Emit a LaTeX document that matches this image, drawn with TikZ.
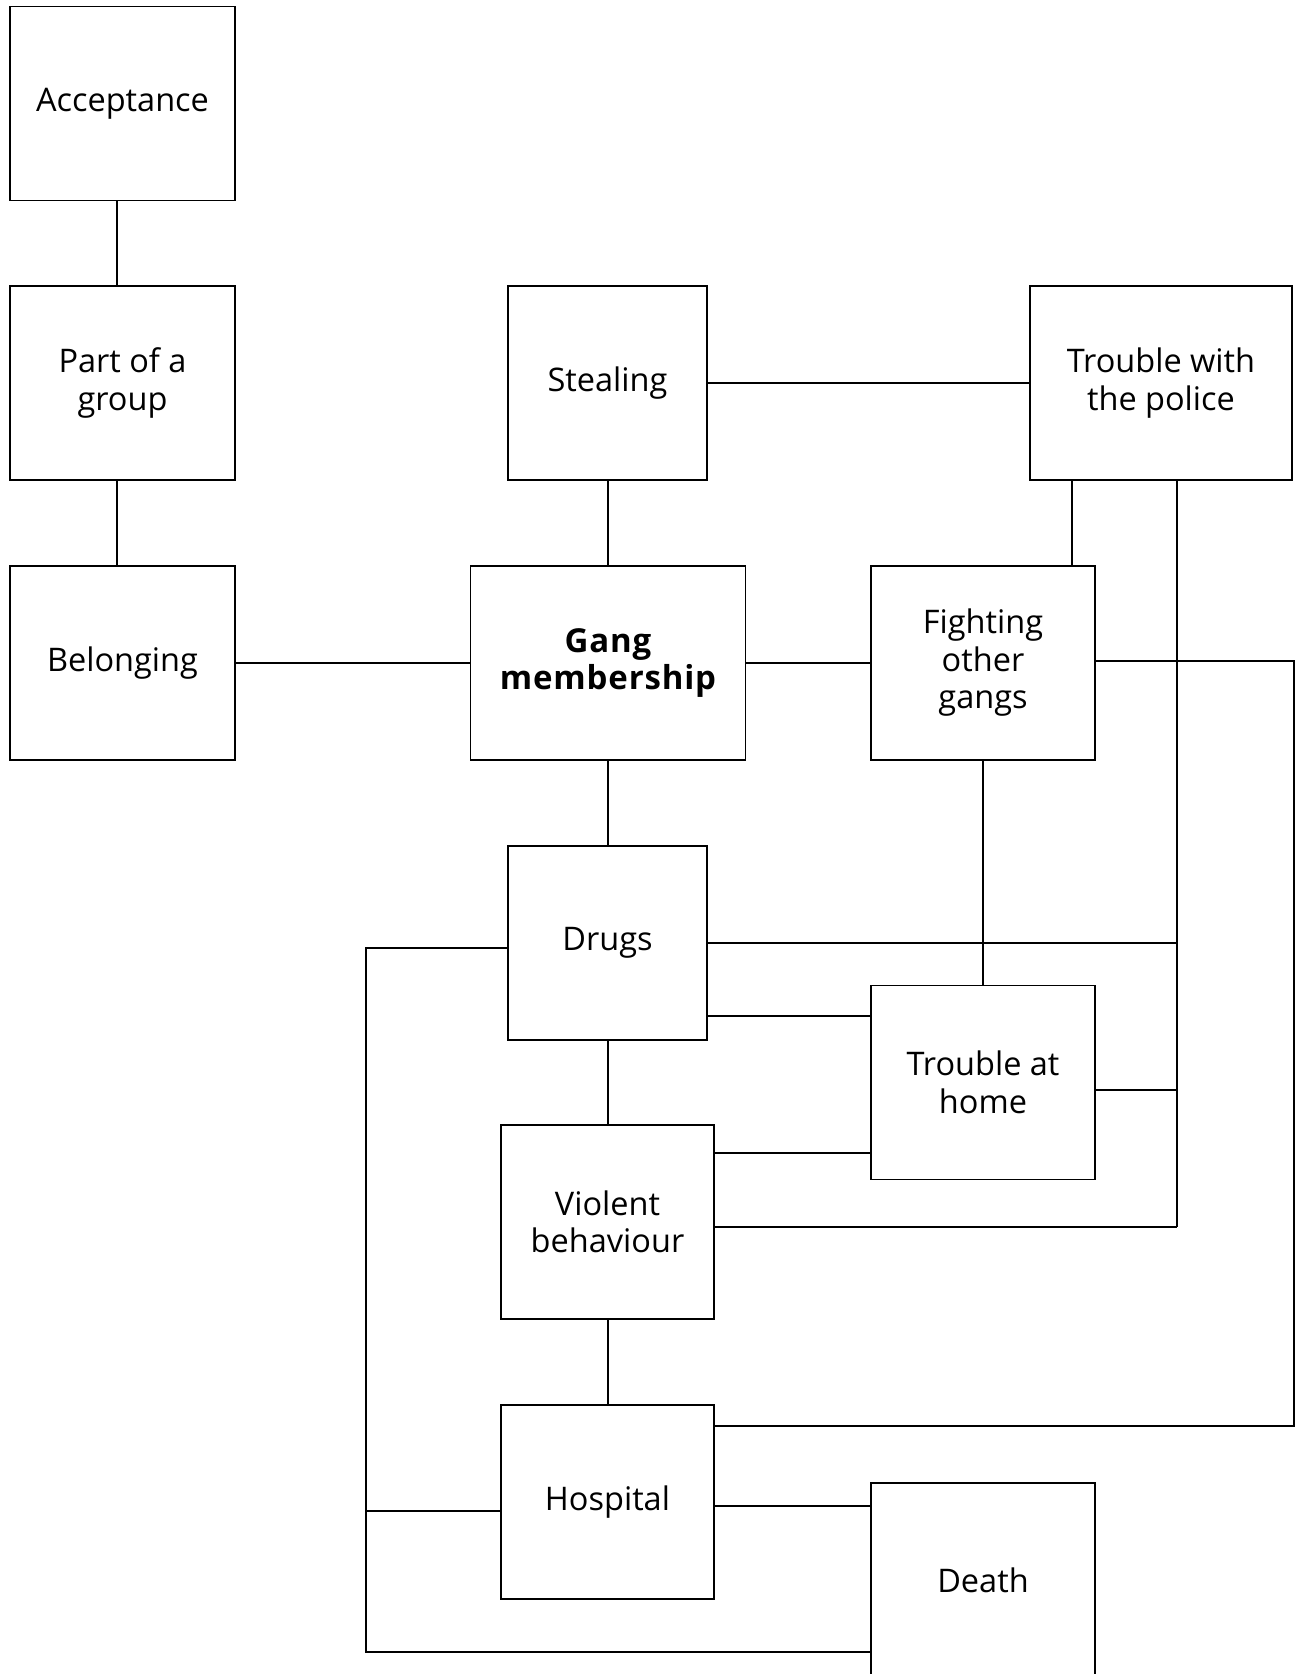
\documentclass[tikz,border=0pt]{standalone}
\usepackage{fontspec}
\setmainfont{Open Sans}
\begin{document}
\begin{tikzpicture}[x=1pt,y=-1pt,
  box/.style={draw, line width=1.4pt, inner sep=0pt, align=center,
    font=\fontsize{32.5}{37.5}\selectfont, text=black},
  link/.style={line width=2pt}]
\useasboundingbox (0,0) rectangle (1295,1674);
\clip (0,0) rectangle (1295,1674);
\node[box, minimum width=225, minimum height=194.5] (acc) at (122.5,103.5) {Acceptance};
\node[box, minimum width=225, minimum height=194] (part) at (122.5,383) {Part of a\\group};
\node[box, minimum width=225, minimum height=194] (bel) at (122.5,663) {Belonging};
\node[box, minimum width=199, minimum height=194] (steal) at (607.5,383) {Stealing};
\node[box, minimum width=262, minimum height=194] (police) at (1161,383) {Trouble with\\the police};
\node[box, minimum width=275, minimum height=194, font=\fontsize{33}{37.5}\selectfont\bfseries\addfontfeature{LetterSpace=2.5}] (gang) at (608,663) {Gang\\membership};
\node[box, minimum width=224, minimum height=194] (fight) at (983,663) {Fighting\\other\\gangs};
\node[box, minimum width=199, minimum height=194] (drugs) at (607.5,943) {Drugs};
\node[box, minimum width=224, minimum height=194] (home) at (983,1082.5) {Trouble at\\home};
\node[box, minimum width=213, minimum height=194] (viol) at (607.5,1222) {Violent\\behaviour};
\node[box, minimum width=213, minimum height=194] (hosp) at (607.5,1502) {Hospital};
\node[box, minimum width=224, minimum height=194] (death) at (983,1580) {Death};
\coordinate (busP) at (1176.5,0);
\coordinate (busR) at (1294,0);
\coordinate (busL) at (366,0);
\draw[link] ([xshift=-5.5pt]acc.south) -- ([xshift=-5.5pt]part.north);
\draw[link] ([xshift=-5.5pt]part.south) -- ([xshift=-5.5pt]bel.north);
\draw[link] (bel.east) -- (gang.west);
\draw[link] (steal.south) -- (steal.south |- gang.north);
\draw[link] (steal.east) -- (police.west);
\draw[link] (gang.east) -- (fight.west);
\draw[link] ([xshift=-89pt]police.south) coordinate (pf) -- (pf |- fight.north);
\draw[link] (police.south -| busP) -- ([yshift=-4.7pt]viol.east -| busP);
\draw[link] ([yshift=2.2pt]fight.east) -| ([yshift=76pt]hosp.east -| busR) -- ([yshift=76pt]hosp.east);
\draw[link] (fight.south) -- (home.north);
\draw[link] (gang.south -| drugs.north) -- (drugs.north);
\draw[link] (drugs.east) -- (drugs.east -| busP);
\draw[link] ([yshift=-73pt]drugs.east) -- ([yshift=-73pt]drugs.east -| home.west);
\draw[link] ([yshift=-5pt]drugs.west) -| ([yshift=-71.6pt]death.west -| busL) -- ([yshift=-71.6pt]death.west);
\draw[link] ([yshift=-8.7pt]hosp.west) -- ([yshift=-8.7pt]hosp.west -| busL);
\draw[link] (drugs.south) -- (viol.north);
\draw[link] ([yshift=69pt]viol.east) -- ([yshift=69pt]viol.east -| home.west);
\draw[link] ([yshift=-4.7pt]viol.east) -- ([yshift=-4.7pt]viol.east -| busP);
\draw[link] ([yshift=-7.5pt]home.east) -- ([yshift=-7.5pt]home.east -| busP);
\draw[link] (viol.south) -- (hosp.north);
\draw[link] ([yshift=-4.4pt]hosp.east) -- ([yshift=-4.4pt]hosp.east -| death.west);
\end{tikzpicture}
\end{document}
